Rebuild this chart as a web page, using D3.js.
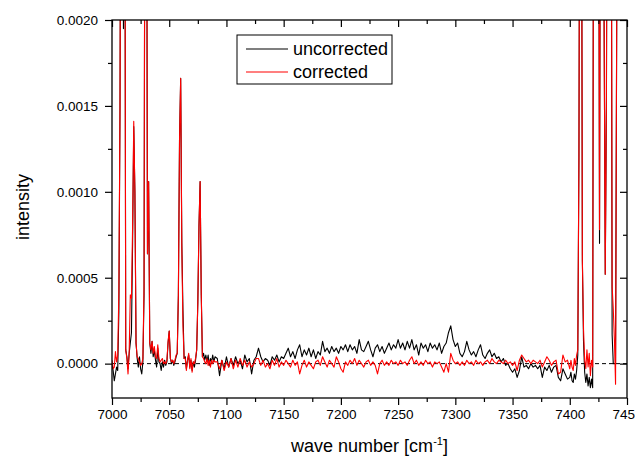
<!DOCTYPE html>
<html>
<head>
<meta charset="utf-8">
<script src="https://cdn.jsdelivr.net/npm/d3@7"></script>
<style>
  body { margin: 0; background: #fff; }
</style>
</head>
<body>
<script>
// wave numbers [cm^-1]: 1 cm^-1 steps near the lines, 2 cm^-1 steps on the flat part
const wn = [
  7000,7001,7002,7003,7004,7005,7006,7007,7008,7009,
  7010,7011,7012,7013,7014,7015,7016,7017,7018,7019,
  7020,7021,7022,7023,7024,7025,7026,7027,7028,7029,
  7030,7031,7032,7033,7034,7035,7036,7037,7038,7039,
  7040,7041,7042,7043,7044,7045,7046,7047,7048,7049,
  7050,7051,7052,7053,7054,7055,7056,7057,7058,7059,
  7060,7061,7062,7063,7064,7065,7066,7067,7068,7069,
  7070,7071,7072,7073,7074,7075,7076,7077,7078,7079,
  7080,7081,7082,7083,7084,7085,7086,7087,7088,7089,
  7090,
  7092,7094,7096,7098,7100,7102,7104,7106,7108,7110,
  7112,7114,7116,7118,7120,7122,7124,7126,7128,7130,
  7132,7134,7136,7138,7140,7142,7144,7146,7148,7150,
  7152,7154,7156,7158,7160,7162,7164,7166,7168,7170,
  7172,7174,7176,7178,7180,7182,7184,7186,7188,7190,
  7192,7194,7196,7198,7200,7202,7204,7206,7208,7210,
  7212,7214,7216,7218,7220,7222,7224,7226,7228,7230,
  7232,7234,7236,7238,7240,7242,7244,7246,7248,7250,
  7252,7254,7256,7258,7260,7262,7264,7266,7268,7270,
  7272,7274,7276,7278,7280,7282,7284,7286,7288,7290,
  7292,7294,7296,7298,7300,7302,7304,7306,7308,7310,
  7312,7314,7316,7318,7320,7322,7324,7326,7328,7330,
  7332,7334,7336,7338,7340,7342,7344,7346,7348,7350,
  7352,7354,7356,7358,7360,7362,7364,7366,7368,7370,
  7372,7374,7376,7378,7380,7382,7384,7386,7388,7390,
  7392,7394,7396,7398,
  7400,7401,7402,7403,7404,7405,7406,7407,7408,7409,
  7410,7411,7412,7413,7414,7415,7416,7417,7418,7419,
  7420,7421,7422,7423,7424,7425,7426,7427,7428,7429,
  7430,7431,7432,7433,7434,7435,7436,7437,7438,7439,
  7440,7441,7442
];

// intensity in units of 1e-5
const uncorrected = [
  0,-4,-10,-6,-2,-4,30,150,400,400,
  195,400,8,4,-3,6,12,18,70,138,
  100,12,3,-2,4,-3,-6,1,40,400,
  400,64,106,12,6,13,4,8,2,-2,
  9,1,0,-4,1,-2,2,-1,1,12,
  19,3,0,2,-1,1,4,6,40,130,
  166,70,31,3,4,-3,2,5,-2,2,
  -4,1,-2,2,8,36,80,106,40,4,
  6,2,5,1,5,-1,3,1,5,1,
  4,
  3,-7,2,-3,4,-2,3,-1,4,0,
  2,-3,5,1,3,-6,2,4,9,4,
  1,3,2,-1,4,2,5,1,4,3,
  6,9,4,7,3,8,11,4,8,5,
  9,4,8,3,7,5,13,7,9,6,
  10,7,9,6,10,8,11,7,11,8,
  10,6,14,8,7,10,13,8,4,9,
  11,7,10,6,9,12,8,11,9,14,
  9,12,8,13,9,14,8,11,5,12,
  9,11,7,12,9,11,8,12,6,10,
  12,18,22,14,10,12,6,4,7,13,
  8,5,7,4,8,11,5,3,6,8,
  4,6,3,4,1,3,-1,0,-3,-5,
  -3,-8,-4,4,-2,-1,-3,0,-2,-1,
  -3,-1,-8,-2,-4,-1,-5,-2,-1,-8,
  -10,-3,-6,-9,
  -8,-5,-10,-11,-6,-9,-4,5,120,400,
  400,60,13,-5,-11,-6,-13,-8,-14,-9,
  -14,400,400,250,400,400,70,400,400,400,
  200,52,150,400,400,400,400,17,0,0,
  0,200,400
];

const corrected = [
  2,-3,-2,7,1,5,42,150,400,400,
  205,400,8,3,-6,6,40,38,80,141,
  100,12,4,3,1,-1,0,3,45,400,
  400,64,106,12,8,13,6,10,4,3,
  11,3,1,2,3,0,1,0,2,13,
  19,3,1,2,0,2,5,6,40,130,
  166,68,22,3,3,-4,2,6,-3,3,
  -5,1,0,3,8,36,80,106,40,4,
  3,1,0,3,-1,2,-2,2,0,2,
  1,
  1,-3,2,-4,1,-2,3,-3,2,-2,
  3,-1,2,-2,1,-2,0,3,3,-1,
  2,-2,0,-3,2,-1,3,-2,1,-1,
  2,0,-2,2,-1,1,-6,-1,2,-2,
  1,-1,-3,1,2,-1,4,1,-2,2,
  0,-2,4,1,-3,-5,1,-1,2,0,
  3,-1,2,0,-2,1,2,-1,1,-1,
  -6,0,2,-1,1,-1,2,0,1,-1,
  2,0,1,-1,2,4,0,2,-1,1,
  -1,2,0,1,-2,1,0,1,-2,-5,
  0,-5,6,2,0,1,-1,1,-1,2,
  0,1,-1,2,0,1,-1,1,2,0,
  3,1,0,2,1,0,2,0,1,-1,
  1,-4,2,5,3,1,2,0,2,1,
  0,2,-2,1,4,2,-1,1,2,-6,
  -5,5,1,2,
  -3,2,-2,-4,3,-1,5,8,120,400,
  400,60,20,2,-3,8,-2,6,-7,2,
  -2,400,400,250,400,400,78,400,400,400,
  200,52,150,400,400,400,400,45,32,14,
  -12,200,400
];

const seriesNames = ["uncorrected", "corrected"];
const seriesColors = ["#000000", "#ff0000"];

const xMajor = [7000,7050,7100,7150,7200,7250,7300,7350,7400,7450];
const xMinor = [7025,7075,7125,7175,7225,7275,7325,7375,7425];
const yMajor = [0,0.0005,0.0010,0.0015,0.0020];
const yMinor = [0.00025,0.00075,0.00125,0.00175];

function createChart() {
    const svgWidth = 635, svgHeight = 460;
    const margin = { top: 20, right: 8, bottom: 62, left: 112 };
    const width = svgWidth - margin.left - margin.right;
    const height = svgHeight - margin.top - margin.bottom;
    const font = '"Liberation Sans", Arial, Helvetica, sans-serif';

    const x = d3.scaleLinear().domain([7000, 7450]).range([0, width]);
    const y = d3.scaleLinear().domain([-0.0002, 0.002]).range([height, 0]);

    const svg = d3.create("svg")
        .attr("width", svgWidth)
        .attr("height", svgHeight)
        .attr("viewBox", `0 0 ${svgWidth} ${svgHeight}`)
        .style("font-family", font);

    svg.append("defs").append("clipPath")
        .attr("id", "plot-clip")
        .append("rect")
        .attr("width", width)
        .attr("height", height);

    const g = svg.append("g")
        .attr("transform", `translate(${margin.left},${margin.top})`);

    // zero line
    g.append("line")
        .attr("x1", 0).attr("x2", width)
        .attr("y1", y(0)).attr("y2", y(0))
        .attr("stroke", "#000")
        .attr("stroke-width", 1)
        .attr("stroke-dasharray", "4,3");

    // spectra
    const line = d3.line()
        .x(d => x(d[0]))
        .y(d => y(d[1] * 1e-5));

    const series = [uncorrected, corrected];
    g.append("g")
        .attr("clip-path", "url(#plot-clip)")
        .selectAll("path")
        .data(series)
        .join("path")
        .attr("fill", "none")
        .attr("stroke", (d, i) => seriesColors[i])
        .attr("stroke-width", 1.1)
        .attr("stroke-linejoin", "round")
        .attr("d", d => line(d3.zip(wn, d)));

    // axes
    function styleAxis(sel) {
        sel.attr("font-size", 13.5).attr("font-family", font);
        sel.select(".domain").remove();
        sel.selectAll(".tick line").attr("stroke", "#000").attr("stroke-width", 1.2);
        sel.selectAll(".tick text").attr("fill", "#000");
    }

    g.append("g")
        .attr("transform", `translate(0,${height})`)
        .call(d3.axisBottom(x).tickValues(xMajor).tickSize(7).tickPadding(4).tickFormat(d3.format("d")))
        .call(styleAxis);
    g.append("g")
        .attr("transform", `translate(0,${height})`)
        .call(d3.axisBottom(x).tickValues(xMinor).tickSize(4).tickFormat(""))
        .call(styleAxis);
    g.append("g")
        .call(d3.axisTop(x).tickValues(xMajor).tickSize(-7).tickFormat(""))
        .call(styleAxis);
    g.append("g")
        .call(d3.axisTop(x).tickValues(xMinor).tickSize(-4).tickFormat(""))
        .call(styleAxis);

    g.append("g")
        .call(d3.axisLeft(y).tickValues(yMajor).tickSize(7).tickPadding(7).tickFormat(d3.format(".4f")))
        .call(styleAxis);
    g.append("g")
        .call(d3.axisLeft(y).tickValues(yMinor).tickSize(4).tickFormat(""))
        .call(styleAxis);
    g.append("g")
        .attr("transform", `translate(${width},0)`)
        .call(d3.axisRight(y).tickValues(yMajor).tickSize(-7).tickFormat(""))
        .call(styleAxis);
    g.append("g")
        .attr("transform", `translate(${width},0)`)
        .call(d3.axisRight(y).tickValues(yMinor).tickSize(-4).tickFormat(""))
        .call(styleAxis);

    // frame
    g.append("rect")
        .attr("width", width)
        .attr("height", height)
        .attr("fill", "none")
        .attr("stroke", "#000")
        .attr("stroke-width", 1.3);

    // axis titles
    const xt = svg.append("text")
        .attr("x", margin.left + width / 2)
        .attr("y", 452)
        .attr("text-anchor", "middle")
        .attr("font-size", 18)
        .attr("fill", "#000");
    xt.append("tspan").text("wave number [cm");
    xt.append("tspan").attr("dy", -7).attr("font-size", 11).text("-1");
    xt.append("tspan").attr("dy", 7).text("]");

    svg.append("text")
        .attr("transform", "rotate(-90)")
        .attr("x", -207)
        .attr("y", 29)
        .attr("text-anchor", "middle")
        .attr("font-size", 18)
        .attr("fill", "#000")
        .text("intensity");

    // legend
    const lg = svg.append("g").attr("transform", "translate(237,35)");
    lg.append("rect")
        .attr("width", 155)
        .attr("height", 49)
        .attr("fill", "#fff")
        .attr("stroke", "#000")
        .attr("stroke-width", 1);
    const rows = lg.selectAll("g.row")
        .data(seriesNames)
        .join("g")
        .attr("class", "row")
        .attr("transform", (d, i) => `translate(0,${14 + i * 23})`);
    rows.append("line")
        .attr("x1", 9).attr("x2", 51)
        .attr("stroke", (d, i) => seriesColors[i])
        .attr("stroke-width", 1.1);
    rows.append("text")
        .attr("x", 56)
        .attr("y", 6.3)
        .attr("font-size", 18)
        .attr("fill", "#000")
        .text(d => d);

    document.body.append(svg.node());
}

createChart();
</script>
</body>
</html>
